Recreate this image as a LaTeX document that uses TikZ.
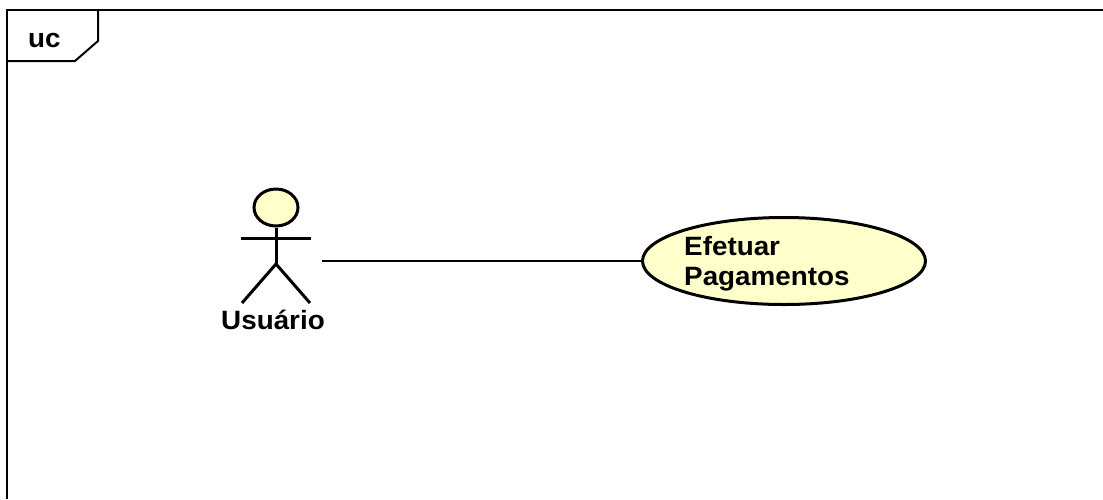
\documentclass[tikz,border=0pt]{standalone}
\usepackage{fontspec}
\setmainfont{Liberation Sans}[FakeStretch=1.05]
\usetikzlibrary{shapes.geometric}
\definecolor{ucfill}{HTML}{FFFFCC}
\tikzset{
  x=1pt,y=-1pt,
  framestyle/.style={draw=black,line width=2pt},
  actorline/.style={draw=black,line width=3pt},
  linkline/.style={draw=black,line width=1.8pt},
  usecase/.style={ellipse,draw=black,line width=3pt,fill=ucfill,inner sep=0pt,minimum width=283pt,minimum height=87pt},
  head/.style={ellipse,draw=black,line width=3pt,fill=ucfill,inner sep=0pt,minimum width=44pt,minimum height=37pt},
  label/.style={inner sep=0pt,font=\fontsize{26.5}{30}\selectfont\bfseries}
}
\begin{document}
\begin{tikzpicture}
\useasboundingbox (0,0) rectangle (1103,499);
% frame
\draw[framestyle] (6.5,499) -- (6.5,10) -- (1103,10);
\draw[framestyle] (6.5,61) -- (75,61) -- (98,41) -- (98,10);
\node[label,anchor=base west] (frametag) at (28,47) {uc};
% actor
\node[head] (actorhead) at (276,207.5) {};
\coordinate (neck) at (276,264);
\coordinate (armL) at (241,238);
\coordinate (armR) at (311,238);
\coordinate (footL) at (242,303);
\coordinate (footR) at (310,303);
\draw[actorline] (actorhead.south) -- (neck);
\draw[actorline] (armL) -- (armR);
\draw[actorline] (footL) -- (neck) -- (footR);
\node[label,anchor=base] (actorname) at (273,329) {Usuário};
% use case
\node[usecase] (uc) at (784,261) {};
\node[label,anchor=base west] (uctext1) at (684,255) {Efetuar};
\node[label,anchor=base west] (uctext2) at (684,285) {Pagamentos};
% association
\coordinate (actorend) at (322,261);
\draw[linkline] (actorend) -- (uc.west);
\end{tikzpicture}
\end{document}
